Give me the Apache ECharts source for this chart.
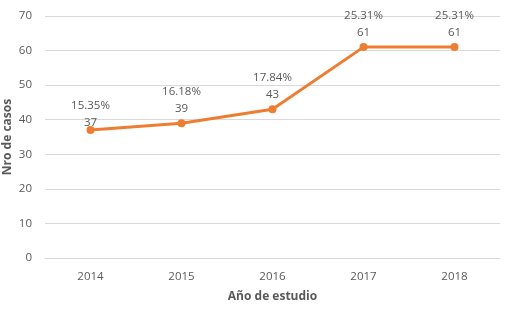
<!DOCTYPE html>
<html lang="es">
<head>
    <meta charset="UTF-8">
    <script src="https://cdn.jsdelivr.net/npm/echarts@6/dist/echarts.min.js"></script>
    <title>Casos por año</title>
    <style type="text/css">
        html, body { margin: 0; padding: 0; background: #fff; }
        #chart { width: 515px; height: 310px; }
    </style>
</head>
<body>
<div id="chart"></div>
<script type="text/javascript">
    // datos
    const years = ['2014', '2015', '2016', '2017', '2018'];
    const casos = [37, 39, 43, 61, 61];
    const porcentajes = ['15.35%', '16.18%', '17.84%', '25.31%', '25.31%'];
    const yTicks = [0, 70, 10]; // min, max, interval

    const font = '"Open Sans", "Noto Sans", sans-serif';
    const gray = '#595959';

    const myChart = echarts.init(document.getElementById('chart'));

    // la etiqueta del primer punto va más pegada al marcador en el original
    const lineData = casos.map(function (v, i) {
        return i === 0 ? { value: v, label: { distance: -5 } } : v;
    });

    const option = {
        animation: false,
        grid: { left: 45, right: 15, top: 16, bottom: 52, outerBoundsMode: 'none', containLabel: false },
        xAxis: {
            type: 'category',
            data: years,
            name: 'Año de estudio',
            nameLocation: 'middle',
            nameGap: 33,
            nameMoveOverlap: false,
            nameTextStyle: { color: gray, fontSize: 12, fontWeight: 'bold', fontFamily: font },
            axisLine: { lineStyle: { color: '#d9d9d9' } },
            axisTick: { show: false },
            axisLabel: { color: gray, fontSize: 11.5, fontFamily: font, margin: 13 }
        },
        yAxis: {
            type: 'value',
            min: yTicks[0],
            max: yTicks[1],
            interval: yTicks[2],
            name: 'Nro de casos',
            nameLocation: 'middle',
            nameGap: 31,
            nameMoveOverlap: false,
            nameTextStyle: { color: gray, fontSize: 12, fontWeight: 'bold', fontFamily: font },
            axisLine: { show: false },
            axisTick: { show: false },
            axisLabel: { color: gray, fontSize: 11.5, fontFamily: font, margin: 13 },
            splitLine: { lineStyle: { color: '#d9d9d9' } }
        },
        series: [{
            type: 'line',
            data: lineData,
            symbol: 'circle',
            symbolSize: 8,
            lineStyle: { color: '#ED7D31', width: 3 },
            itemStyle: { color: '#ED7D31' },
            label: {
                show: true,
                position: 'top',
                distance: 2,
                color: gray,
                fontSize: 11.5,
                fontFamily: font,
                lineHeight: 17,
                formatter: function (p) {
                    return porcentajes[p.dataIndex] + '\n' + p.value;
                }
            }
        }]
    };

    myChart.setOption(option);
</script>
</body>
</html>
